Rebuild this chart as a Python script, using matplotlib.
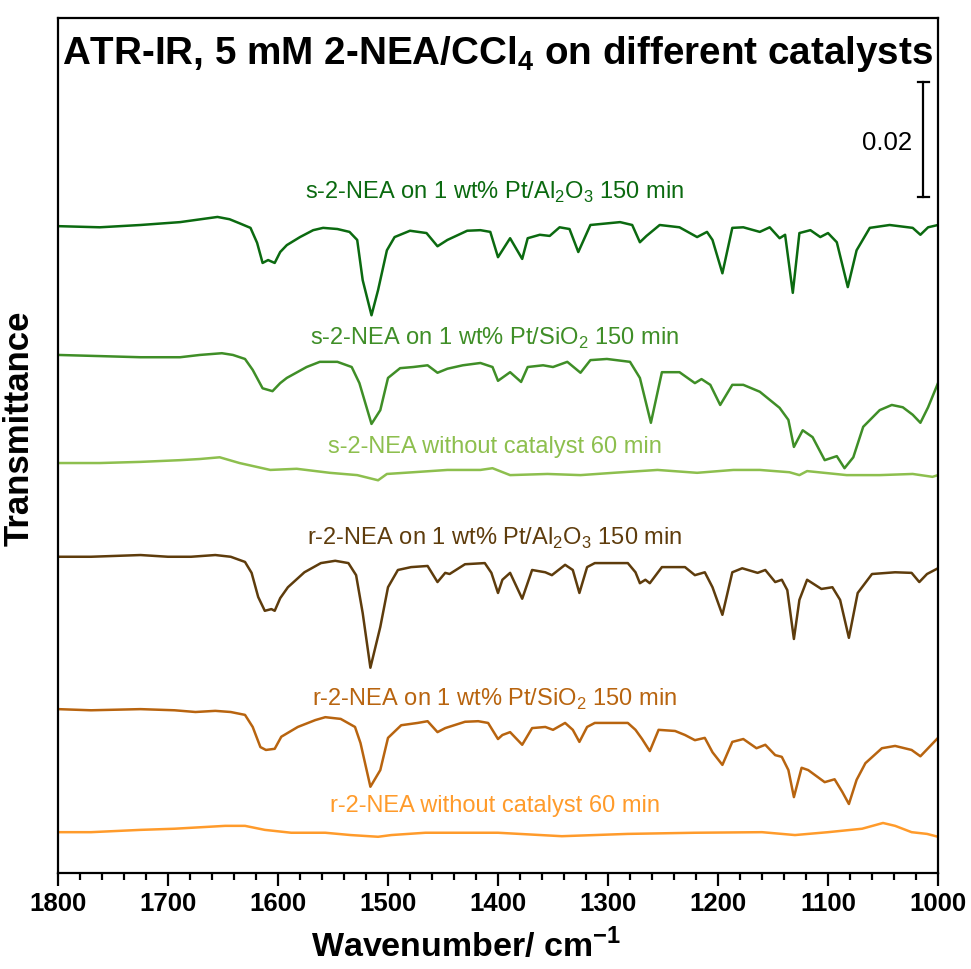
import matplotlib
matplotlib.use('Agg')
import matplotlib.pyplot as plt
from matplotlib.ticker import MultipleLocator

plt.rcParams['font.family'] = ['Liberation Sans', 'DejaVu Sans']
plt.rcParams['mathtext.fontset'] = 'custom'
plt.rcParams['mathtext.rm'] = 'Liberation Sans'
plt.rcParams['mathtext.bf'] = 'Liberation Sans:bold'

# transmittance values in units of 1e-3, already offset for stacking
s_al_wn = [1800, 1762, 1725, 1689, 1674, 1655, 1644, 1635, 1625, 1619, 1614, 1609, 1603, 1598,
           1592, 1580, 1568, 1559, 1546, 1535, 1528, 1523, 1515, 1509, 1501, 1494, 1480, 1465,
           1455, 1446, 1428, 1416, 1407, 1400, 1389, 1378, 1373, 1362, 1353, 1344, 1335, 1327,
           1316, 1289, 1278, 1271, 1265, 1253, 1235, 1219, 1210, 1205, 1196, 1187, 1177, 1162,
           1153, 1144, 1139, 1132, 1126, 1116, 1107, 1100, 1092, 1082, 1074, 1062, 1044, 1023,
           1016, 1009, 1000]
s_al_val = [112.5, 112.3, 112.7, 113.2, 113.6, 114.1, 113.7, 113.0, 112.2, 109.6, 106.1, 106.6,
            106.1, 108.0, 109.2, 110.6, 111.8, 112.2, 112.0, 111.5, 110.1, 103.1, 97.0, 101.4,
            108.3, 110.6, 111.7, 111.3, 109.0, 110.1, 111.7, 111.8, 111.5, 107.1, 110.4, 106.8,
            110.4, 111.0, 110.8, 112.3, 112.0, 108.0, 112.7, 113.2, 112.7, 109.7, 110.8, 112.7,
            112.3, 110.6, 111.5, 110.1, 104.3, 112.2, 112.3, 111.5, 112.3, 110.4, 111.0, 100.9,
            111.3, 111.8, 110.6, 111.3, 109.7, 101.9, 108.3, 112.2, 112.7, 112.2, 111.0, 112.3,
            112.7]

s_si_wn = [1800, 1762, 1725, 1689, 1671, 1651, 1641, 1630, 1623, 1614, 1605, 1598, 1592, 1574,
           1562, 1546, 1533, 1526, 1515, 1507, 1500, 1489, 1477, 1464, 1455, 1446, 1432, 1416,
           1405, 1400, 1389, 1379, 1373, 1359, 1350, 1337, 1325, 1316, 1301, 1280, 1271, 1261,
           1251, 1235, 1221, 1215, 1207, 1198, 1187, 1177, 1162, 1144, 1136, 1131, 1123, 1114,
           1103, 1092, 1085, 1077, 1068, 1053, 1042, 1032, 1023, 1016, 1009, 1000]
s_si_val = [90.1, 89.9, 89.7, 89.7, 90.1, 90.4, 90.1, 89.4, 87.5, 84.3, 83.8, 85.2, 86.1, 88.0,
            88.9, 88.9, 88.0, 85.2, 78.1, 80.5, 86.1, 87.8, 88.0, 88.3, 87.0, 87.7, 88.3, 88.7,
            88.0, 85.6, 87.1, 85.4, 88.0, 88.3, 88.0, 88.9, 87.0, 89.2, 89.4, 88.9, 86.1, 78.3,
            87.1, 87.1, 85.2, 85.9, 84.9, 81.4, 84.9, 84.9, 83.7, 80.9, 78.8, 74.1, 77.0, 75.8,
            71.8, 72.5, 70.4, 72.3, 77.6, 80.5, 81.4, 81.0, 79.7, 78.3, 81.0, 85.2]

s_none_wn = [1800, 1762, 1725, 1689, 1671, 1653, 1635, 1607, 1583, 1553, 1528, 1509, 1501, 1477,
             1446, 1416, 1405, 1389, 1355, 1325, 1295, 1255, 1219, 1186, 1162, 1135, 1126, 1119,
             1083, 1053, 1023, 1005, 1000]
s_none_val = [71.3, 71.3, 71.5, 71.8, 72.0, 72.3, 71.3, 70.1, 70.3, 69.6, 69.2, 68.3, 69.4, 69.7,
              70.1, 70.1, 70.4, 69.2, 69.4, 69.2, 69.6, 70.1, 69.6, 70.1, 70.1, 69.7, 69.2, 69.9,
              69.2, 69.2, 69.4, 68.9, 69.2]

r_al_wn = [1800, 1770, 1725, 1700, 1679, 1657, 1643, 1630, 1624, 1618, 1612, 1606, 1603, 1598,
           1591, 1576, 1561, 1548, 1536, 1529, 1523, 1516, 1507, 1500, 1491, 1479, 1464, 1455,
           1448, 1444, 1430, 1412, 1406, 1400, 1396, 1389, 1378, 1369, 1357, 1351, 1339, 1332,
           1326, 1319, 1312, 1282, 1275, 1271, 1266, 1262, 1251, 1242, 1230, 1221, 1212, 1205,
           1196, 1187, 1178, 1164, 1157, 1148, 1142, 1137, 1131, 1126, 1119, 1106, 1096, 1089,
           1081, 1073, 1060, 1039, 1024, 1017, 1010, 1000]
r_al_val = [55.0, 55.0, 55.3, 55.0, 55.0, 55.3, 55.0, 54.1, 52.2, 48.0, 45.6, 45.9, 45.6, 47.8,
            49.7, 52.3, 53.9, 54.3, 53.9, 51.8, 45.2, 35.7, 42.8, 49.7, 52.7, 53.2, 53.4, 50.6,
            52.2, 52.0, 53.7, 53.9, 52.2, 48.7, 51.0, 52.2, 47.7, 52.7, 52.3, 51.8, 53.6, 52.7,
            48.7, 53.2, 53.9, 53.9, 52.3, 50.4, 51.0, 50.4, 53.2, 53.2, 53.2, 51.8, 52.3, 49.7,
            44.9, 52.3, 53.0, 52.2, 52.7, 50.6, 51.0, 49.2, 40.7, 47.5, 51.0, 49.4, 49.7, 47.5,
            40.9, 48.7, 52.0, 52.3, 52.2, 50.6, 52.0, 53.0]

r_si_wn = [1800, 1770, 1725, 1694, 1675, 1657, 1643, 1630, 1623, 1616, 1611, 1603, 1597, 1582,
           1566, 1557, 1543, 1530, 1525, 1516, 1507, 1500, 1488, 1473, 1464, 1455, 1448, 1430,
           1418, 1409, 1400, 1396, 1389, 1378, 1369, 1357, 1350, 1339, 1332, 1326, 1319, 1312,
           1282, 1275, 1269, 1262, 1254, 1239, 1230, 1221, 1212, 1205, 1196, 1187, 1177, 1165,
           1157, 1148, 1142, 1136, 1131, 1124, 1118, 1103, 1094, 1087, 1081, 1074, 1066, 1051,
           1039, 1024, 1016, 1009, 1000]
r_si_val = [28.5, 28.3, 28.5, 28.3, 28.0, 28.2, 28.0, 27.5, 25.4, 21.9, 21.4, 21.6, 23.7, 25.4,
            26.6, 27.1, 26.8, 25.4, 22.6, 15.0, 17.9, 23.5, 25.7, 26.1, 26.4, 24.5, 25.2, 26.3,
            26.4, 26.1, 23.3, 24.0, 24.5, 22.3, 25.2, 25.4, 24.9, 26.1, 24.9, 22.8, 25.4, 26.1,
            26.1, 24.9, 23.3, 21.2, 24.9, 24.7, 24.0, 23.1, 23.5, 21.0, 18.8, 22.8, 23.3, 21.7,
            22.3, 20.5, 20.2, 17.9, 13.2, 18.3, 17.9, 15.8, 16.3, 14.1, 12.0, 16.2, 19.1, 21.7,
            22.1, 21.4, 20.3, 21.7, 23.5]

r_none_wn = [1800, 1770, 1725, 1694, 1648, 1630, 1612, 1588, 1557, 1534, 1509, 1497, 1466, 1436,
             1400, 1342, 1282, 1221, 1160, 1130, 1100, 1069, 1050, 1039, 1024, 1010, 1000]
r_none_val = [7.1, 7.1, 7.5, 7.7, 8.2, 8.2, 7.5, 7.0, 7.0, 6.6, 6.3, 6.6, 7.0, 7.0, 7.0, 6.4,
              6.8, 7.0, 7.1, 6.6, 7.1, 7.7, 8.7, 8.2, 7.1, 6.8, 6.3]

labels = ['s-2-NEA on 1 wt% Pt/Al$_2$O$_3$ 150 min',
          's-2-NEA on 1 wt% Pt/SiO$_2$ 150 min',
          's-2-NEA without catalyst 60 min',
          'r-2-NEA on 1 wt% Pt/Al$_2$O$_3$ 150 min',
          'r-2-NEA on 1 wt% Pt/SiO$_2$ 150 min',
          'r-2-NEA without catalyst 60 min']
colors = ['#0b6a10', '#3f8e27', '#8dbf4e', '#5e3c0c', '#b8640f', '#ff9b2b']
label_y = [117.2, 91.8, 73.0, 57.0, 29.0, 10.6]

spectra = [(s_al_wn, s_al_val), (s_si_wn, s_si_val), (s_none_wn, s_none_val),
           (r_al_wn, r_al_val), (r_si_wn, r_si_val), (r_none_wn, r_none_val)]

fig = plt.figure(figsize=(9.71, 9.69), dpi=100)
ax = fig.add_axes([58 / 971, 96 / 969, 880 / 971, 855 / 969])

for (wn, val), col, lab, ly in zip(spectra, colors, labels, label_y):
    ax.plot(wn, val, color=col, lw=1.8, solid_joinstyle='round')
    ax.text(1403, ly, lab, color=col, fontsize=17, ha='center', va='baseline')

# scale bar, 0.02 = 20 units
ax.plot([1013.6, 1013.6], [117.6, 137.6], color='black', lw=1.6)
ax.plot([1008.6, 1018.6], [117.6, 117.6], color='black', lw=1.6)
ax.plot([1008.6, 1018.6], [137.6, 137.6], color='black', lw=1.6)
ax.text(1046, 125.7, '0.02', fontsize=18.5, ha='center', va='baseline')

ax.text(0.5, 0.9462, 'ATR-IR, 5 mM 2-NEA/CCl$_\\mathbf{4}$ on different catalysts',
        transform=ax.transAxes, ha='center', va='baseline', fontsize=27.8, fontweight='bold')

ax.set_xlim(1800, 1000)
ax.set_ylim(0, 148.7)
ax.xaxis.set_major_locator(MultipleLocator(100))
ax.xaxis.set_minor_locator(MultipleLocator(20))
ax.set_yticks([])
ax.tick_params(axis='x', which='major', direction='out', length=9, width=1.6,
               labelsize=18.5, pad=5)
ax.tick_params(axis='x', which='minor', direction='out', length=5, width=1.6)
for lbl in ax.get_xticklabels():
    lbl.set_fontweight('bold')
for sp in ax.spines.values():
    sp.set_linewidth(1.6)

ax.set_xlabel('Wavenumber/ cm$^{\\mathbf{-1}}$', fontsize=24.5, fontweight='bold')
ax.xaxis.set_label_coords(0.4636, -0.064)
ax.set_ylabel('Transmittance', fontsize=25, fontweight='bold')
ax.yaxis.set_label_coords(-0.025, 0.52)

fig.savefig('out.png', dpi=100)
